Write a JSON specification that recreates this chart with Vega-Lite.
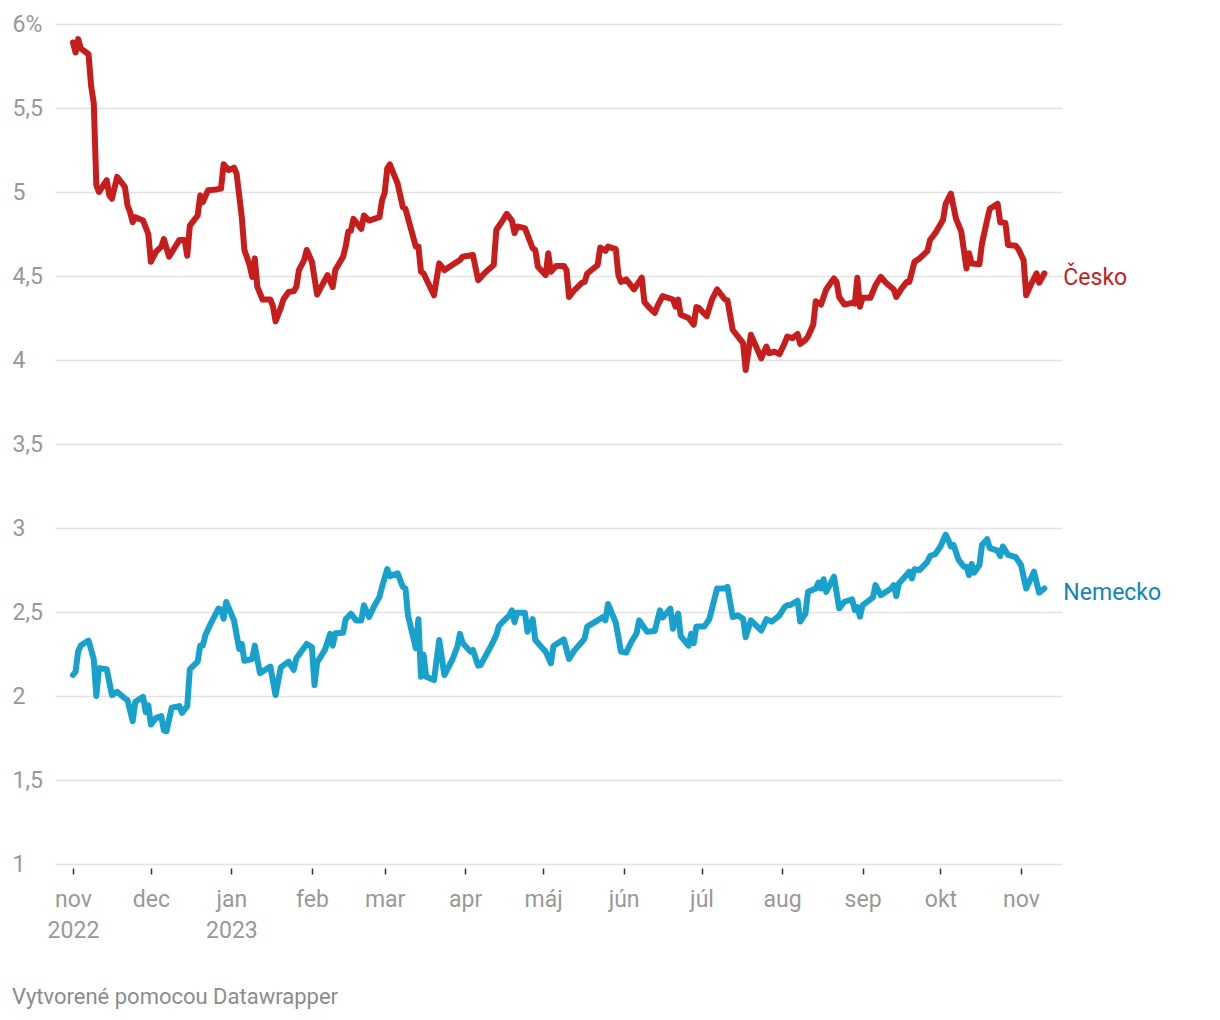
{
"$schema": "https://vega.github.io/schema/vega-lite/v6.json",
"width": 1007, "height": 840,
"autosize": {"type": "none"},
"padding": {"left": 55, "top": 24, "right": 158, "bottom": 156},
"background": "white",
"config": {"view": {"stroke": null}, "font": "Roboto"},
"title": {"text": "Vytvorené pomocou Datawrapper", "orient": "bottom", "anchor": "start", "frame": "bounds", "fontSize": 22, "fontWeight": "normal", "color": "#8c8c8c", "font": "Roboto", "baseline": "alphabetic", "offset": 62},
"datasets": {
"cz": [
{"date":"2022-11-01","value":5.89},{"date":"2022-11-02","value":5.83},{"date":"2022-11-03","value":5.91},{"date":"2022-11-04","value":5.855},{"date":"2022-11-07","value":5.82},{"date":"2022-11-08","value":5.63},{"date":"2022-11-09","value":5.53},{"date":"2022-11-10","value":5.04},{"date":"2022-11-11","value":5.0},{"date":"2022-11-14","value":5.07},{"date":"2022-11-15","value":4.98},{"date":"2022-11-16","value":4.96},{"date":"2022-11-18","value":5.09},{"date":"2022-11-21","value":5.03},{"date":"2022-11-22","value":4.92},{"date":"2022-11-23","value":4.88},{"date":"2022-11-24","value":4.82},{"date":"2022-11-25","value":4.85},{"date":"2022-11-28","value":4.83},{"date":"2022-11-30","value":4.75},
{"date":"2022-12-01","value":4.585},{"date":"2022-12-03","value":4.645},{"date":"2022-12-05","value":4.675},{"date":"2022-12-06","value":4.72},{"date":"2022-12-08","value":4.615},{"date":"2022-12-10","value":4.665},{"date":"2022-12-12","value":4.715},{"date":"2022-12-14","value":4.715},{"date":"2022-12-15","value":4.62},{"date":"2022-12-16","value":4.8},{"date":"2022-12-18","value":4.84},{"date":"2022-12-19","value":4.86},{"date":"2022-12-20","value":4.98},{"date":"2022-12-21","value":4.94},{"date":"2022-12-23","value":5.01},{"date":"2022-12-26","value":5.015},{"date":"2022-12-28","value":5.02},{"date":"2022-12-29","value":5.165},{"date":"2022-12-31","value":5.13},
{"date":"2023-01-02","value":5.145},{"date":"2023-01-03","value":5.11},{"date":"2023-01-05","value":4.85},{"date":"2023-01-06","value":4.655},{"date":"2023-01-08","value":4.565},{"date":"2023-01-09","value":4.495},{"date":"2023-01-10","value":4.605},{"date":"2023-01-11","value":4.435},{"date":"2023-01-13","value":4.36},{"date":"2023-01-16","value":4.36},{"date":"2023-01-17","value":4.32},{"date":"2023-01-18","value":4.23},{"date":"2023-01-20","value":4.31},{"date":"2023-01-21","value":4.36},{"date":"2023-01-23","value":4.405},{"date":"2023-01-25","value":4.41},{"date":"2023-01-26","value":4.435},{"date":"2023-01-27","value":4.535},{"date":"2023-01-29","value":4.595},{"date":"2023-01-30","value":4.655},
{"date":"2023-02-01","value":4.585},{"date":"2023-02-03","value":4.39},{"date":"2023-02-07","value":4.505},{"date":"2023-02-09","value":4.435},{"date":"2023-02-10","value":4.535},{"date":"2023-02-13","value":4.615},{"date":"2023-02-14","value":4.675},{"date":"2023-02-15","value":4.765},{"date":"2023-02-16","value":4.77},{"date":"2023-02-17","value":4.84},{"date":"2023-02-20","value":4.78},{"date":"2023-02-21","value":4.86},{"date":"2023-02-23","value":4.83},{"date":"2023-02-27","value":4.85},{"date":"2023-02-28","value":4.95},
{"date":"2023-03-01","value":4.995},{"date":"2023-03-02","value":5.14},{"date":"2023-03-03","value":5.165},{"date":"2023-03-06","value":5.05},{"date":"2023-03-08","value":4.91},{"date":"2023-03-09","value":4.9},{"date":"2023-03-13","value":4.675},{"date":"2023-03-14","value":4.675},{"date":"2023-03-15","value":4.525},{"date":"2023-03-16","value":4.515},{"date":"2023-03-20","value":4.385},{"date":"2023-03-22","value":4.575},{"date":"2023-03-24","value":4.535},{"date":"2023-03-27","value":4.565},{"date":"2023-03-30","value":4.595},{"date":"2023-03-31","value":4.615},
{"date":"2023-04-04","value":4.625},{"date":"2023-04-06","value":4.475},{"date":"2023-04-09","value":4.525},{"date":"2023-04-12","value":4.565},{"date":"2023-04-13","value":4.775},{"date":"2023-04-15","value":4.82},{"date":"2023-04-17","value":4.87},{"date":"2023-04-19","value":4.83},{"date":"2023-04-20","value":4.755},{"date":"2023-04-21","value":4.795},{"date":"2023-04-24","value":4.785},{"date":"2023-04-27","value":4.665},{"date":"2023-04-28","value":4.655},{"date":"2023-04-29","value":4.555},
{"date":"2023-05-02","value":4.505},{"date":"2023-05-03","value":4.635},{"date":"2023-05-04","value":4.525},{"date":"2023-05-06","value":4.56},{"date":"2023-05-09","value":4.56},{"date":"2023-05-10","value":4.535},{"date":"2023-05-11","value":4.375},{"date":"2023-05-13","value":4.415},{"date":"2023-05-16","value":4.46},{"date":"2023-05-17","value":4.465},{"date":"2023-05-18","value":4.515},{"date":"2023-05-20","value":4.54},{"date":"2023-05-22","value":4.565},{"date":"2023-05-23","value":4.67},{"date":"2023-05-25","value":4.65},{"date":"2023-05-26","value":4.675},{"date":"2023-05-29","value":4.66},{"date":"2023-05-30","value":4.505},{"date":"2023-05-31","value":4.465},
{"date":"2023-06-02","value":4.48},{"date":"2023-06-05","value":4.42},{"date":"2023-06-08","value":4.49},{"date":"2023-06-09","value":4.345},{"date":"2023-06-11","value":4.31},{"date":"2023-06-13","value":4.28},{"date":"2023-06-14","value":4.32},{"date":"2023-06-16","value":4.38},{"date":"2023-06-20","value":4.36},{"date":"2023-06-21","value":4.317},{"date":"2023-06-22","value":4.36},{"date":"2023-06-23","value":4.27},{"date":"2023-06-26","value":4.25},{"date":"2023-06-28","value":4.21},{"date":"2023-06-29","value":4.315},{"date":"2023-06-30","value":4.31},
{"date":"2023-07-03","value":4.26},{"date":"2023-07-05","value":4.36},{"date":"2023-07-07","value":4.42},{"date":"2023-07-10","value":4.36},{"date":"2023-07-11","value":4.355},{"date":"2023-07-13","value":4.18},{"date":"2023-07-15","value":4.14},{"date":"2023-07-17","value":4.1},{"date":"2023-07-18","value":3.94},{"date":"2023-07-20","value":4.15},{"date":"2023-07-22","value":4.08},{"date":"2023-07-24","value":4.01},{"date":"2023-07-26","value":4.08},{"date":"2023-07-27","value":4.04},{"date":"2023-07-29","value":4.05},{"date":"2023-07-31","value":4.035},
{"date":"2023-08-02","value":4.1},{"date":"2023-08-03","value":4.14},{"date":"2023-08-05","value":4.13},{"date":"2023-08-07","value":4.155},{"date":"2023-08-08","value":4.095},{"date":"2023-08-10","value":4.12},{"date":"2023-08-11","value":4.14},{"date":"2023-08-13","value":4.21},{"date":"2023-08-14","value":4.35},{"date":"2023-08-16","value":4.33},{"date":"2023-08-18","value":4.42},{"date":"2023-08-20","value":4.465},{"date":"2023-08-21","value":4.485},{"date":"2023-08-22","value":4.465},{"date":"2023-08-23","value":4.375},{"date":"2023-08-25","value":4.33},{"date":"2023-08-28","value":4.34},{"date":"2023-08-29","value":4.335},{"date":"2023-08-30","value":4.49},{"date":"2023-08-31","value":4.317},
{"date":"2023-09-01","value":4.37},{"date":"2023-09-04","value":4.37},{"date":"2023-09-06","value":4.445},{"date":"2023-09-08","value":4.495},{"date":"2023-09-10","value":4.46},{"date":"2023-09-13","value":4.42},{"date":"2023-09-14","value":4.375},{"date":"2023-09-16","value":4.425},{"date":"2023-09-18","value":4.465},{"date":"2023-09-19","value":4.465},{"date":"2023-09-21","value":4.585},{"date":"2023-09-23","value":4.605},{"date":"2023-09-26","value":4.65},{"date":"2023-09-27","value":4.715},{"date":"2023-09-29","value":4.755},
{"date":"2023-10-02","value":4.835},{"date":"2023-10-03","value":4.93},{"date":"2023-10-05","value":4.99},{"date":"2023-10-07","value":4.84},{"date":"2023-10-09","value":4.765},{"date":"2023-10-11","value":4.545},{"date":"2023-10-12","value":4.635},{"date":"2023-10-13","value":4.575},{"date":"2023-10-16","value":4.57},{"date":"2023-10-17","value":4.695},{"date":"2023-10-19","value":4.835},{"date":"2023-10-20","value":4.9},{"date":"2023-10-23","value":4.93},{"date":"2023-10-24","value":4.82},{"date":"2023-10-26","value":4.815},{"date":"2023-10-27","value":4.685},{"date":"2023-10-30","value":4.68},{"date":"2023-10-31","value":4.66},
{"date":"2023-11-02","value":4.595},{"date":"2023-11-03","value":4.385},{"date":"2023-11-05","value":4.455},{"date":"2023-11-07","value":4.515},{"date":"2023-11-08","value":4.46},{"date":"2023-11-10","value":4.515}
],
"de": [
{"date":"2022-11-01","value":2.125},{"date":"2022-11-02","value":2.145},{"date":"2022-11-03","value":2.265},{"date":"2022-11-04","value":2.3},{"date":"2022-11-07","value":2.33},{"date":"2022-11-09","value":2.22},{"date":"2022-11-10","value":2.0},{"date":"2022-11-11","value":2.165},{"date":"2022-11-14","value":2.16},{"date":"2022-11-16","value":2.005},{"date":"2022-11-18","value":2.025},{"date":"2022-11-21","value":1.985},{"date":"2022-11-22","value":1.976},{"date":"2022-11-24","value":1.85},{"date":"2022-11-25","value":1.965},{"date":"2022-11-28","value":1.995},{"date":"2022-11-29","value":1.905},{"date":"2022-11-30","value":1.945},
{"date":"2022-12-01","value":1.83},{"date":"2022-12-03","value":1.87},{"date":"2022-12-05","value":1.88},{"date":"2022-12-06","value":1.795},{"date":"2022-12-07","value":1.79},{"date":"2022-12-09","value":1.93},{"date":"2022-12-12","value":1.94},{"date":"2022-12-13","value":1.9},{"date":"2022-12-15","value":1.94},{"date":"2022-12-16","value":2.16},{"date":"2022-12-19","value":2.205},{"date":"2022-12-20","value":2.3},{"date":"2022-12-21","value":2.3},{"date":"2022-12-22","value":2.363},{"date":"2022-12-24","value":2.43},{"date":"2022-12-27","value":2.52},{"date":"2022-12-28","value":2.515},{"date":"2022-12-29","value":2.46},{"date":"2022-12-30","value":2.56},
{"date":"2023-01-02","value":2.45},{"date":"2023-01-04","value":2.28},{"date":"2023-01-05","value":2.31},{"date":"2023-01-06","value":2.21},{"date":"2023-01-09","value":2.22},{"date":"2023-01-10","value":2.3},{"date":"2023-01-12","value":2.135},{"date":"2023-01-16","value":2.175},{"date":"2023-01-18","value":2.005},{"date":"2023-01-20","value":2.17},{"date":"2023-01-23","value":2.205},{"date":"2023-01-25","value":2.155},{"date":"2023-01-26","value":2.225},{"date":"2023-01-30","value":2.31},
{"date":"2023-02-01","value":2.29},{"date":"2023-02-02","value":2.065},{"date":"2023-02-03","value":2.2},{"date":"2023-02-06","value":2.274},{"date":"2023-02-08","value":2.37},{"date":"2023-02-09","value":2.3},{"date":"2023-02-10","value":2.373},{"date":"2023-02-13","value":2.377},{"date":"2023-02-14","value":2.457},{"date":"2023-02-16","value":2.49},{"date":"2023-02-18","value":2.45},{"date":"2023-02-20","value":2.45},{"date":"2023-02-21","value":2.54},{"date":"2023-02-23","value":2.47},{"date":"2023-02-25","value":2.536},{"date":"2023-02-27","value":2.59},{"date":"2023-02-28","value":2.65},
{"date":"2023-03-02","value":2.755},{"date":"2023-03-03","value":2.714},{"date":"2023-03-06","value":2.73},{"date":"2023-03-08","value":2.65},{"date":"2023-03-09","value":2.64},{"date":"2023-03-10","value":2.48},{"date":"2023-03-13","value":2.284},{"date":"2023-03-14","value":2.457},{"date":"2023-03-15","value":2.115},{"date":"2023-03-16","value":2.245},{"date":"2023-03-17","value":2.115},{"date":"2023-03-20","value":2.095},{"date":"2023-03-22","value":2.333},{"date":"2023-03-24","value":2.125},{"date":"2023-03-27","value":2.214},{"date":"2023-03-29","value":2.293},{"date":"2023-03-30","value":2.37},{"date":"2023-03-31","value":2.317},
{"date":"2023-04-03","value":2.264},{"date":"2023-04-04","value":2.274},{"date":"2023-04-06","value":2.18},{"date":"2023-04-07","value":2.185},{"date":"2023-04-11","value":2.3},{"date":"2023-04-13","value":2.363},{"date":"2023-04-14","value":2.417},{"date":"2023-04-16","value":2.45},{"date":"2023-04-18","value":2.48},{"date":"2023-04-19","value":2.51},{"date":"2023-04-20","value":2.44},{"date":"2023-04-21","value":2.496},{"date":"2023-04-24","value":2.496},{"date":"2023-04-25","value":2.383},{"date":"2023-04-27","value":2.457},{"date":"2023-04-28","value":2.333},
{"date":"2023-05-02","value":2.264},{"date":"2023-05-04","value":2.195},{"date":"2023-05-05","value":2.298},{"date":"2023-05-09","value":2.337},{"date":"2023-05-11","value":2.22},{"date":"2023-05-13","value":2.27},{"date":"2023-05-16","value":2.323},{"date":"2023-05-17","value":2.343},{"date":"2023-05-18","value":2.413},{"date":"2023-05-22","value":2.45},{"date":"2023-05-24","value":2.47},{"date":"2023-05-25","value":2.45},{"date":"2023-05-26","value":2.548},{"date":"2023-05-29","value":2.436},{"date":"2023-05-31","value":2.264},
{"date":"2023-06-02","value":2.258},{"date":"2023-06-04","value":2.323},{"date":"2023-06-06","value":2.373},{"date":"2023-06-07","value":2.45},{"date":"2023-06-10","value":2.383},{"date":"2023-06-13","value":2.387},{"date":"2023-06-15","value":2.51},{"date":"2023-06-16","value":2.467},{"date":"2023-06-19","value":2.52},{"date":"2023-06-20","value":2.4},{"date":"2023-06-22","value":2.49},{"date":"2023-06-23","value":2.357},{"date":"2023-06-26","value":2.3},{"date":"2023-06-27","value":2.37},{"date":"2023-06-28","value":2.314},{"date":"2023-06-29","value":2.413},
{"date":"2023-07-02","value":2.413},{"date":"2023-07-04","value":2.457},{"date":"2023-07-07","value":2.64},{"date":"2023-07-10","value":2.64},{"date":"2023-07-11","value":2.65},{"date":"2023-07-13","value":2.47},{"date":"2023-07-15","value":2.48},{"date":"2023-07-17","value":2.46},{"date":"2023-07-18","value":2.35},{"date":"2023-07-20","value":2.45},{"date":"2023-07-24","value":2.39},{"date":"2023-07-26","value":2.457},{"date":"2023-07-28","value":2.443},{"date":"2023-07-30","value":2.467},{"date":"2023-07-31","value":2.48},
{"date":"2023-08-02","value":2.53},{"date":"2023-08-03","value":2.54},{"date":"2023-08-04","value":2.54},{"date":"2023-08-07","value":2.567},{"date":"2023-08-08","value":2.443},{"date":"2023-08-10","value":2.49},{"date":"2023-08-11","value":2.62},{"date":"2023-08-14","value":2.64},{"date":"2023-08-15","value":2.675},{"date":"2023-08-16","value":2.64},{"date":"2023-08-17","value":2.695},{"date":"2023-08-18","value":2.62},{"date":"2023-08-21","value":2.71},{"date":"2023-08-23","value":2.522},{"date":"2023-08-25","value":2.561},{"date":"2023-08-28","value":2.575},{"date":"2023-08-29","value":2.512},{"date":"2023-08-30","value":2.528},{"date":"2023-08-31","value":2.472},
{"date":"2023-09-01","value":2.54},{"date":"2023-09-05","value":2.587},{"date":"2023-09-06","value":2.66},{"date":"2023-09-08","value":2.6},{"date":"2023-09-12","value":2.64},{"date":"2023-09-13","value":2.66},{"date":"2023-09-14","value":2.595},{"date":"2023-09-15","value":2.67},{"date":"2023-09-19","value":2.74},{"date":"2023-09-20","value":2.7},{"date":"2023-09-21","value":2.754},{"date":"2023-09-23","value":2.75},{"date":"2023-09-26","value":2.8},{"date":"2023-09-27","value":2.833},{"date":"2023-09-29","value":2.845},
{"date":"2023-10-01","value":2.89},{"date":"2023-10-03","value":2.96},{"date":"2023-10-04","value":2.93},{"date":"2023-10-05","value":2.89},{"date":"2023-10-06","value":2.9},{"date":"2023-10-08","value":2.81},{"date":"2023-10-10","value":2.77},{"date":"2023-10-11","value":2.77},{"date":"2023-10-12","value":2.72},{"date":"2023-10-13","value":2.786},{"date":"2023-10-14","value":2.734},{"date":"2023-10-16","value":2.78},{"date":"2023-10-17","value":2.9},{"date":"2023-10-19","value":2.933},{"date":"2023-10-20","value":2.88},{"date":"2023-10-23","value":2.865},{"date":"2023-10-24","value":2.833},{"date":"2023-10-25","value":2.89},{"date":"2023-10-27","value":2.84},{"date":"2023-10-30","value":2.826},
{"date":"2023-11-01","value":2.78},{"date":"2023-11-03","value":2.64},{"date":"2023-11-06","value":2.74},{"date":"2023-11-08","value":2.615},{"date":"2023-11-10","value":2.64}
]
},
"layer": [
  {
    "data": {"name": "cz"},
    "mark": {"type": "line", "strokeWidth": 6, "strokeJoin": "round", "strokeCap": "round", "color": "#c71e1d"},
    "encoding": {
      "x": {"field": "date", "type": "temporal",
        "scale": {"type": "utc", "domain": [{"year": 2022, "month": 10, "date": 25, "hours": 2, "utc": true}, {"year": 2023, "month": 11, "date": 16, "hours": 19, "utc": true}]},
        "axis": {
          "values": [
            {"year": 2022, "month": 11, "date": 1, "utc": true},
            {"year": 2022, "month": 12, "date": 1, "utc": true},
            {"year": 2023, "month": 1, "date": 1, "utc": true},
            {"year": 2023, "month": 2, "date": 1, "utc": true},
            {"year": 2023, "month": 3, "date": 1, "utc": true},
            {"year": 2023, "month": 4, "date": 1, "utc": true},
            {"year": 2023, "month": 5, "date": 1, "utc": true},
            {"year": 2023, "month": 6, "date": 1, "utc": true},
            {"year": 2023, "month": 7, "date": 1, "utc": true},
            {"year": 2023, "month": 8, "date": 1, "utc": true},
            {"year": 2023, "month": 9, "date": 1, "utc": true},
            {"year": 2023, "month": 10, "date": 1, "utc": true},
            {"year": 2023, "month": 11, "date": 1, "utc": true}
          ],
          "labelExpr": "utcmonth(datum.value) == 10 && utcyear(datum.value) == 2022 ? ['nov', '2022'] : (utcmonth(datum.value) == 0 ? ['jan', '2023'] : ['jan','feb','mar','apr','máj','jún','júl','aug','sep','okt','nov','dec'][utcmonth(datum.value)])",
          "title": null, "grid": false, "domain": false,
          "ticks": true, "tickColor": "#333333", "tickWidth": 1.5, "tickSize": 6, "offset": 4,
          "labelPadding": 14, "labelFontSize": 23, "labelColor": "#999999", "labelFont": "Roboto",
          "labelLineHeight": 31, "labelFlush": false, "labelOverlap": false, "labelBound": false,
          "labelBaseline": "top", "labelAlign": "center"
        }
      },
      "y": {"field": "value", "type": "quantitative",
        "scale": {"domain": [1, 6], "nice": false, "zero": false},
        "axis": {
          "values": [1, 1.5, 2, 2.5, 3, 3.5, 4, 4.5, 5, 5.5, 6],
          "labelExpr": "datum.value == 6 ? '6%' : replace(format(datum.value, '.1~f'), '.', ',')",
          "title": null, "grid": true, "gridColor": "#e3e3e3", "gridWidth": 1.5,
          "domain": false, "ticks": false, "tickSize": 0,
          "labelAlign": "left", "labelPadding": 43, "labelBaseline": "middle",
          "labelFontSize": 23, "labelColor": "#999999", "labelFont": "Roboto",
          "labelFlush": false, "labelOverlap": false, "labelBound": false
        }
      }
    }
  },
  {
    "data": {"name": "de"},
    "mark": {"type": "line", "strokeWidth": 6, "strokeJoin": "round", "strokeCap": "round", "color": "#18a1cd"},
    "encoding": {
      "x": {"field": "date", "type": "temporal"},
      "y": {"field": "value", "type": "quantitative"}
    }
  },
  {
    "data": {"name": "cz"},
    "transform": [{"filter": "utcyear(datum.date) == 2023 && utcmonth(datum.date) == 10 && utcdate(datum.date) == 10"}, {"calculate": "'Česko'", "as": "country"}],
    "mark": {"type": "text", "align": "left", "baseline": "middle", "dx": 19, "dy": 5, "fontSize": 23, "font": "Roboto", "color": "#c71e1d"},
    "encoding": {
      "x": {"field": "date", "type": "temporal"},
      "y": {"field": "value", "type": "quantitative"},
      "text": {"field": "country"}
    }
  },
  {
    "data": {"name": "de"},
    "transform": [{"filter": "utcyear(datum.date) == 2023 && utcmonth(datum.date) == 10 && utcdate(datum.date) == 10"}, {"calculate": "'Nemecko'", "as": "country"}],
    "mark": {"type": "text", "align": "left", "baseline": "middle", "dx": 19, "dy": 5, "fontSize": 23, "font": "Roboto", "color": "#0e86b5"},
    "encoding": {
      "x": {"field": "date", "type": "temporal"},
      "y": {"field": "value", "type": "quantitative"},
      "text": {"field": "country"}
    }
  }
]
}
